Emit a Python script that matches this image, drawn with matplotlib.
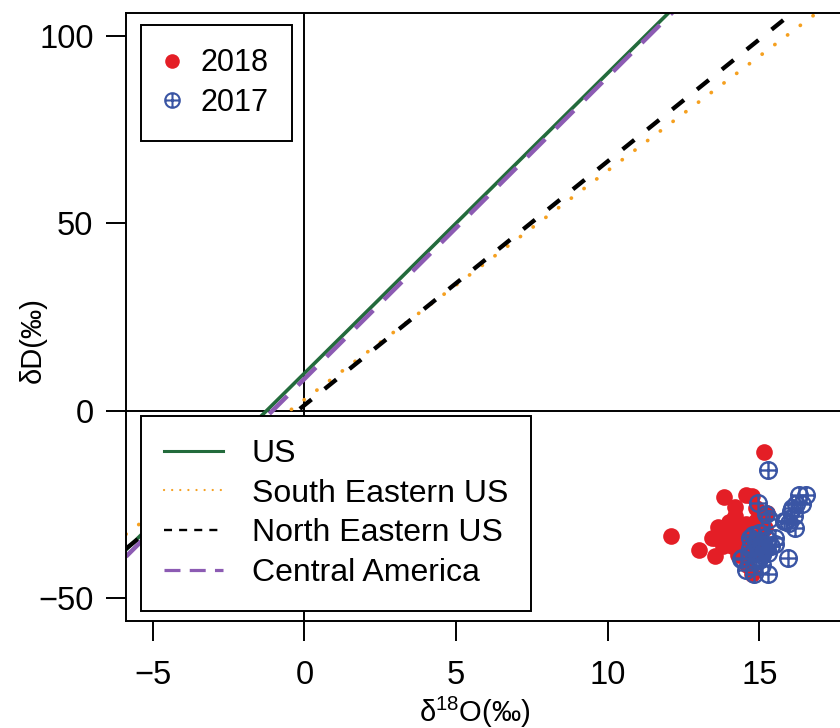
import numpy as np
import matplotlib
matplotlib.use("Agg")
import matplotlib.pyplot as plt
from matplotlib.lines import Line2D
from matplotlib.path import Path


ARCHIVO_SALIDA = "out.png"

# muestras 2018 (puntos rojos)
d18o_2018 = [15.15, 12.1, 13.0, 13.55, 13.85, 14.2, 13.65, 13.55, 13.95, 14.35,
             14.45, 14.55, 14.75, 14.1, 14.65, 15.25, 15.2, 13.75, 13.45, 14.1,
             14.55, 14.9, 14.5, 14.75, 13.8, 14.2, 14.9, 14.3, 14.9, 15.0,
             14.0, 14.6]
dD_2018 = [-11.0, -33.3, -37.0, -38.6, -23.0, -25.5, -31.0, -33.8, -34.7, -30.2,
           -33.0, -22.3, -22.8, -36.1, -39.0, -27.2, -31.2, -31.6, -34.0, -32.9,
           -30.2, -29.4, -36.5, -43.5, -36.0, -28.0, -26.0, -38.5, -33.5, -38.0,
           -29.5, -41.0]

# muestras 2017 (circulo con cruz azul)
d18o_2017 = [15.27, 14.94, 15.23, 15.32, 16.31, 16.55, 16.2, 16.41, 16.03, 16.14,
             15.82, 15.98, 16.18, 15.52, 15.93, 14.44, 14.83, 15.27, 14.55, 16.08,
             15.87, 14.39,
             14.8, 15.0, 15.2, 14.9, 15.1, 15.3, 14.7, 15.0, 15.2, 14.8,
             15.1, 15.4, 14.9, 15.1, 15.5, 14.7, 15.0, 15.3]
dD_2017 = [-15.8, -24.5, -27.4, -28.9, -22.3, -22.3, -24.9, -24.9, -26.7, -28.0,
           -29.4, -29.8, -31.2, -33.8, -39.2, -39.2, -43.6, -43.6, -42.3, -25.8,
           -29.4, -39.6,
           -33.0, -32.5, -33.5, -35.0, -35.5, -34.5, -36.5, -37.0, -36.8, -38.0,
           -38.5, -36.0, -40.0, -41.0, -35.5, -34.0, -39.5, -38.0]

# rectas meteoricas: dD = pendiente * d18O + intercepto
regiones = ["US", "South Eastern US", "North Eastern US", "Central America"]
pendientes = [8.0, 6.1, 6.5, 8.05]
interceptos = [10.0, 3.0, 1.5, 8.5]

XLIM = (-5.88, 17.88)
YLIM = (-56, 106)

FUENTE = ["Liberation Sans", "DejaVu Sans"]
ROJO = "#E41E26"
AZUL = "#3A55A4"


def marcador_circulo_cruz():
    circulo = Path.unit_circle()
    horizontal = Path([[-1, 0], [1, 0]], [Path.MOVETO, Path.LINETO])
    vertical = Path([[0, -1], [0, 1]], [Path.MOVETO, Path.LINETO])
    return Path.make_compound_path(circulo, horizontal, vertical)


def estilos_rectas():
    # estilo en el grafico y estilo del simbolo en la leyenda
    return [
        dict(color="#236B3C", lw=2.6, ls="-"),
        dict(color="#F5A020", lw=2.7, ls=(0, (0.05, 4.2)), dash_capstyle="round"),
        dict(color="black", lw=3.1, ls=(0, (3.5, 3.9))),
        dict(color="#8C5BB3", lw=3.2, ls=(0, (5.7, 3.4))),
    ], [
        dict(color="#236B3C", lw=2.2, ls="-"),
        dict(color="#F5A020", lw=1.6, ls=(0, (0.05, 3.6)), dash_capstyle="round"),
        dict(color="black", lw=1.7, ls=(0, (3.4, 3.0))),
        dict(color="#8C5BB3", lw=2.3, ls=(0, (5.0, 2.9))),
    ]


def graficar(salida):
    plt.rcParams["font.family"] = FUENTE
    plt.rcParams["mathtext.fontset"] = "custom"
    plt.rcParams["mathtext.rm"] = "Liberation Sans"
    plt.rcParams["mathtext.default"] = "regular"

    fig = plt.figure(figsize=(8.4, 7.28), dpi=100)
    ax = fig.add_axes([0.15, 0.147, 0.858, 0.835])
    ax.set_xlim(*XLIM)
    ax.set_ylim(*YLIM)

    ax.axhline(0, color="black", lw=1.4, zorder=1)
    ax.axvline(0, color="black", lw=1.4, zorder=1)

    estilo_graf, estilo_ley = estilos_rectas()
    xs = np.array(XLIM)
    for m, b, est in zip(pendientes, interceptos, estilo_graf):
        ax.plot(xs, m * xs + b, zorder=2, **est)

    cruz = marcador_circulo_cruz()
    ax.plot(d18o_2018, dD_2018, "o", color=ROJO, ms=12, mec="none", zorder=3)
    ax.plot(d18o_2017, dD_2017, ls="none", marker=cruz, ms=12, mfc="none",
            mec=AZUL, mew=1.7, zorder=4)

    ax.set_xticks([-5, 0, 5, 10, 15])
    ax.set_yticks([-50, 0, 50, 100])
    ax.tick_params(labelsize=23.5, length=14.4, width=1.4, color="black")
    ax.tick_params(axis="x", pad=14)
    ax.tick_params(axis="y", pad=9)
    for s in ax.spines.values():
        s.set_linewidth(1.4)

    ax.set_xlabel(r"δ$^{18}$O(‰)", fontsize=21)
    ax.xaxis.set_label_coords(0.484, -0.122)
    ax.set_ylabel("δD(‰)", fontsize=21)
    ax.yaxis.set_label_coords(-0.11, 0.462)

    # leyenda de años
    h_anios = [
        Line2D([], [], ls="none", marker="o", color=ROJO, ms=10.5, mec="none"),
        Line2D([], [], ls="none", marker=cruz, ms=10.5, mfc="none", mec=AZUL, mew=1.5),
    ]
    ley1 = ax.legend(h_anios, ["2018", "2017"], loc="upper left",
                     bbox_to_anchor=(141 / 840, 1 - 25 / 728),
                     bbox_transform=fig.transFigure, borderaxespad=0,
                     fontsize=22, handlelength=0.5, handletextpad=0.7,
                     borderpad=0.76, labelspacing=0.32, fancybox=False,
                     framealpha=1, edgecolor="black")
    ley1.get_frame().set_linewidth(1.4)
    ax.add_artist(ley1)

    # leyenda de regiones
    h_reg = [Line2D([], [], **est) for est in estilo_ley]
    ley2 = ax.legend(h_reg, regiones, loc="upper left",
                     bbox_to_anchor=(141 / 840, 1 - 416 / 728),
                     bbox_transform=fig.transFigure, borderaxespad=0,
                     fontsize=23, handlelength=1.85, handletextpad=0.9,
                     borderpad=0.72, labelspacing=0.3, fancybox=False,
                     framealpha=1, edgecolor="black")
    ley2.get_frame().set_linewidth(1.4)
    ley2.set_zorder(5)

    fig.savefig(salida, dpi=100)
    plt.close(fig)


def main():
    graficar(ARCHIVO_SALIDA)
    print(f"Guardado: {ARCHIVO_SALIDA}")


if __name__ == "__main__":
    main()
